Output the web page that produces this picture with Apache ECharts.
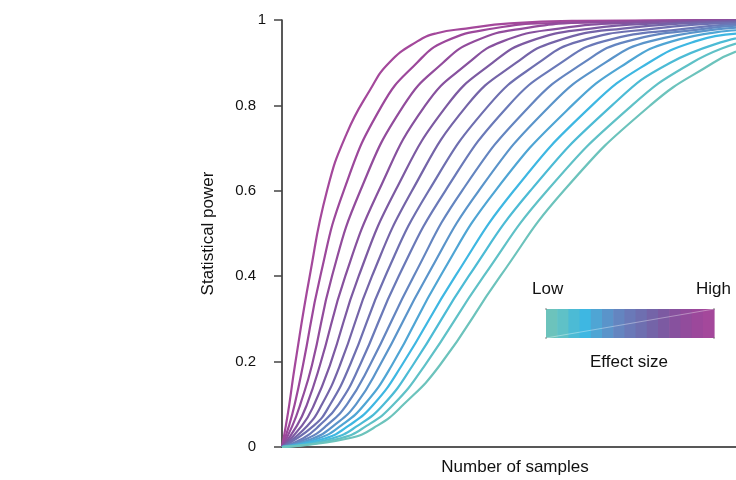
<!DOCTYPE html>
<html>
<head>
<meta charset="utf-8">
<title>Statistical power</title>
<script src="https://cdn.jsdelivr.net/npm/echarts@6/dist/echarts.min.js"></script>
<style>
  html, body { margin: 0; padding: 0; background: #fff; }
  #chart { width: 736px; height: 480px; }
</style>
</head>
<body>
<div id="chart"></div>
<script>
// power curves: [samples, power], highest effect size first
const curve1 = [[0, 0], [0.85, 0.05], [1.61, 0.1], [2.86, 0.192], [6.1, 0.4], [9.91, 0.6], [14.25, 0.734], [19.38, 0.836], [23.6, 0.9], [29.8, 0.95], [34.1, 0.969], [40.5, 0.98], [50.2, 0.992], [65, 0.998], [100, 1]];
const curve2 = [[0, 0], [1.55, 0.05], [2.8, 0.1], [4.63, 0.192], [8.44, 0.4], [13.59, 0.6], [22.03, 0.8], [29.74, 0.9], [36.0, 0.95], [46.5, 0.98], [60, 0.993], [100, 0.9995]];
const curve3 = [[0, 0], [2.3, 0.05], [4.03, 0.1], [6.61, 0.192], [11.01, 0.4], [17.25, 0.6], [26.81, 0.8], [35.46, 0.9], [42.4, 0.95], [53, 0.98], [70, 0.995], [100, 0.999]];
const curve4 = [[0, 0], [3.3, 0.05], [5.51, 0.1], [8.37, 0.192], [13.94, 0.4], [21.3, 0.6], [31.56, 0.8], [41.12, 0.9], [48.6, 0.95], [61, 0.98], [78, 0.994], [100, 0.999]];
const curve5 = [[0, 0], [4.4, 0.05], [7.11, 0.1], [10.57, 0.192], [16.89, 0.4], [24.96, 0.6], [36.34, 0.8], [46.41, 0.9], [54.5, 0.95], [68, 0.98], [85, 0.993], [100, 0.998]];
const curve6 = [[0, 0], [5.6, 0.05], [8.81, 0.1], [12.78, 0.192], [19.82, 0.4], [28.63, 0.6], [40.75, 0.8], [51.61, 0.9], [60.3, 0.95], [75, 0.98], [100, 0.996]];
const curve7 = [[0, 0], [7.0, 0.05], [10.64, 0.1], [14.98, 0.192], [22.75, 0.4], [32.31, 0.6], [45.53, 0.8], [56.54, 0.9], [65.4, 0.95], [82, 0.98], [100, 0.994]];
const curve8 = [[0, 0], [4.6, 0.02], [8.2, 0.05], [12.49, 0.1], [17.18, 0.192], [25.7, 0.4], [35.97, 0.6], [49.93, 0.8], [61.52, 0.9], [70.8, 0.95], [89, 0.98], [100, 0.991]];
const curve9 = [[0, 0], [5.6, 0.02], [9.8, 0.05], [14.32, 0.1], [19.38, 0.192], [29.01, 0.4], [39.65, 0.6], [54.69, 0.8], [66.45, 0.9], [76.0, 0.95], [95, 0.982], [100, 0.987]];
const curve10 = [[0, 0], [6.8, 0.02], [11.4, 0.05], [16.3, 0.1], [21.59, 0.192], [31.94, 0.4], [43.33, 0.6], [59.1, 0.8], [71.21, 0.9], [81.0, 0.95], [100, 0.982]];
const curve11 = [[0, 0], [8.0, 0.02], [13.0, 0.05], [18.22, 0.1], [24.23, 0.192], [34.87, 0.4], [46.98, 0.6], [63.88, 0.8], [75.99, 0.9], [85.9, 0.95], [100, 0.976]];
const curve12 = [[0, 0], [9.4, 0.02], [14.7, 0.05], [20.2, 0.1], [26.43, 0.192], [38.17, 0.4], [51.04, 0.6], [68.28, 0.8], [80.77, 0.9], [91.0, 0.95], [100, 0.968]];
const curve13 = [[0, 0], [11.0, 0.02], [16.7, 0.05], [22.42, 0.1], [28.85, 0.192], [41.12, 0.4], [54.69, 0.6], [72.69, 0.8], [85.53, 0.9], [100, 0.957]];
const curve14 = [[0, 0], [12.7, 0.02], [18.7, 0.05], [24.6, 0.1], [31.5, 0.192], [44.43, 0.4], [58.37, 0.6], [77.09, 0.8], [90.31, 0.9], [100, 0.945]];
const curve15 = [[0, 0], [14.5, 0.02], [21.0, 0.05], [26.81, 0.1], [34.8, 0.192], [48.08, 0.4], [62.05, 0.6], [81.12, 0.8], [95.0, 0.9], [100, 0.926]];

const curves = [curve1, curve2, curve3, curve4, curve5, curve6, curve7, curve8,
  curve9, curve10, curve11, curve12, curve13, curve14, curve15];

// high effect (magenta) -> low effect (teal)
const colors = ['#a4489b', '#9c489b', '#924c9c', '#87519e', '#7c5aa2', '#7464a8', '#6e6fb0',
  '#6a79b8', '#6485c0', '#5a94ca', '#4fa5d4', '#3eb7e2', '#4cbbd5', '#5fc1c7', '#6cc3bc'];

const yTicks = [0, 0.2, 0.4, 0.6, 0.8, 1];

const font = "'Liberation Sans', Arial, Helvetica, sans-serif";

const chart = echarts.init(document.getElementById('chart'), null, { renderer: 'canvas' });

// colour bar for the effect size (low on the left)
const barLeft = 546, barTop = 309, barW = 168, barH = 29;
const bandW = barW / colors.length;
const barBands = colors.slice().reverse().map((c, i) => ({
  type: 'rect',
  shape: { x: barLeft + i * bandW, y: barTop, width: bandW + 0.6, height: barH },
  style: { fill: c },
  silent: true
}));
const corners = [[barLeft, barTop], [barLeft + barW, barTop], [barLeft, barTop + barH], [barLeft + barW, barTop + barH]]
  .map(p => ({
    type: 'circle',
    shape: { cx: p[0], cy: p[1], r: 0.8 },
    style: { fill: '#777' },
    silent: true
  }));

chart.setOption({
  animation: false,
  textStyle: { fontFamily: font, color: '#111' },
  grid: { left: 282, right: 0, top: 20, bottom: 33, containLabel: false, outerBoundsMode: 'none' },
  xAxis: {
    type: 'value',
    min: 0,
    max: 100,
    name: 'Number of samples',
    nameLocation: 'middle',
    nameGap: 12,
    nameTextStyle: { fontSize: 17, color: '#111', fontFamily: font, padding: [0, 0, 0, 12] },
    axisLine: { show: true, lineStyle: { color: '#222', width: 1.5 } },
    axisTick: { show: false },
    axisLabel: { show: false },
    splitLine: { show: false }
  },
  yAxis: {
    type: 'value',
    min: 0,
    max: 1,
    interval: 0.2,
    name: 'Statistical power',
    nameLocation: 'middle',
    nameGap: 65,
    nameTextStyle: { fontSize: 17, color: '#111', fontFamily: font },
    axisLine: { show: true, lineStyle: { color: '#222', width: 1.5 } },
    axisTick: { show: true, length: 8, lineStyle: { color: '#444', width: 1.5 } },
    axisLabel: {
      fontSize: 15,
      color: '#111',
      fontFamily: font,
      margin: 15,
      // the "1" sits closer to the axis than the other labels
      formatter: v => {
        const t = +v.toFixed(1);
        if (!yTicks.includes(t)) return '';
        return t === 1 ? '{one|1}' : '{lab|' + t + '}';
      },
      rich: {
        one: { fontSize: 15, color: '#111', fontFamily: font, padding: [0, 1, 0, 0] },
        lab: { fontSize: 15, color: '#111', fontFamily: font, padding: [0, 11, 0, 0] }
      }
    },
    splitLine: { show: false }
  },
  series: curves.map((d, i) => ({
    type: 'line',
    data: d,
    smooth: 0.5,
    showSymbol: false,
    clip: true,
    lineStyle: { color: colors[i], width: 2.2 },
    z: 2
  })),
  graphic: [
    ...barBands,
    {
      type: 'line',
      shape: { x1: barLeft, y1: barTop + barH, x2: barLeft + barW, y2: barTop },
      style: { stroke: 'rgba(255,255,255,0.45)', lineWidth: 0.8 },
      silent: true
    },
    ...corners,
    {
      type: 'text',
      x: 532, y: 289,
      style: { text: 'Low', font: '17px ' + font, fill: '#111', textAlign: 'left', textVerticalAlign: 'middle' },
      silent: true
    },
    {
      type: 'text',
      x: 731, y: 289,
      style: { text: 'High', font: '17px ' + font, fill: '#111', textAlign: 'right', textVerticalAlign: 'middle' },
      silent: true
    },
    {
      type: 'text',
      x: 629, y: 362,
      style: { text: 'Effect size', font: '17px ' + font, fill: '#111', textAlign: 'center', textVerticalAlign: 'middle' },
      silent: true
    }
  ]
});
</script>
</body>
</html>
